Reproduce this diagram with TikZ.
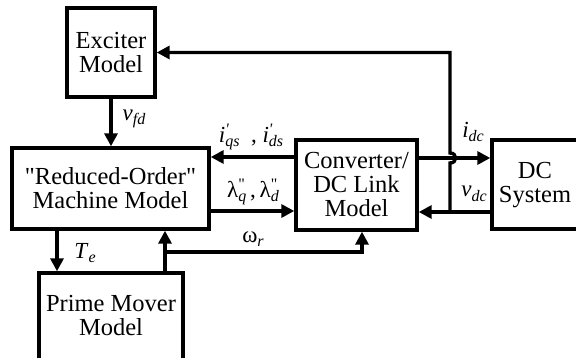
\documentclass[tikz,border=0pt]{standalone}
\usepackage{fontspec}
\setmainfont{Liberation Serif}[Ligatures=TeXOff]
\usetikzlibrary{arrows.meta}
\newcommand{\qtyl}[3]{#1\rlap{\raisebox{0.75ex}{\fontsize{16}{16}\selectfont #2}}\raisebox{-0.45ex}{\fontsize{16}{16}\selectfont\itshape #3}}
\newcommand{\dq}{\symbol{34}}
\begin{document}
\begin{tikzpicture}[x=1pt,y=-1pt,
  blk/.style={draw, line width=3.4pt, inner sep=0pt, align=center},
  txt/.style={font=\fontsize{24.5}{24}\selectfont, align=center, inner sep=0pt},
  lbl/.style={font=\fontsize{23}{23}\selectfont, inner sep=0pt},
  arr/.style={line width=3.4pt, -{Triangle[length=13pt,width=13pt]}},
  ln/.style={line width=3.4pt}]
\useasboundingbox (0,0) rectangle (576,358);
\clip (0,0) rectangle (576,358);
% blocks
\node[blk, minimum width=88pt, minimum height=89pt, txt] (exc) at (111,52.5) {Exciter\\Model};
\node[blk, minimum width=197pt, minimum height=81pt, txt] (mach) at (110.5,188.5) {\dq Reduced-Order\dq\\Machine Model};
\node[blk, minimum width=121pt, minimum height=90pt, txt] (conv) at (356.5,185) {Converter/\\DC Link\\Model};
\node[blk, minimum width=120pt, minimum height=89pt] (dcs) at (552,184.5) {};
\node[txt] (dcst) at (535,185) {DC\\System};
\node[blk, minimum width=144pt, minimum height=100pt] (pm) at (111,323) {};
\node[txt] (pmt) at (111,316) {Prime Mover\\Model};
% helper coordinates
\coordinate (jn) at (450,212);
\coordinate (yid) at (0,158);
\coordinate (yiq) at (0,157);
\coordinate (ylam) at (0,211);
\coordinate (xte) at (57,0);
\coordinate (w1) at (165,252);
\coordinate (w2) at (362,252);
\coordinate (bl) at (450,163);
\coordinate (bu) at (450,153);
\coordinate (tc) at (450,52.5);
% connectors
\draw[arr] (exc.south) -- (exc.south |- mach.north);
\draw[arr] (dcs.west |- jn) -- (conv.east |- jn);
\draw[arr] (jn) -- (bl) .. controls (457.5,163) and (457.5,153) .. (bu) -- (tc) -- (exc.east);
\draw[arr] (conv.east |- yid) -- (dcs.west |- yid);
\draw[arr] (conv.west |- yiq) -- (mach.east |- yiq);
\draw[arr] (mach.east |- ylam) -- (conv.west |- ylam);
\draw[arr] (mach.south -| xte) -- (pm.north -| xte);
\draw[arr] (pm.north -| w1) -- (mach.south -| w1);
\draw[arr] (w1) -- (w2) -- (conv.south -| w2);
% labels
\node[lbl] (lvfd) at (134,119) {\qtyl{\textit{v}}{}{fd}};
\node[lbl] (liq) at (251,137) {\qtyl{\textit{i}}{\textit{'}}{qs}\ \ ,\ \qtyl{\textit{i}}{\textit{'}}{ds}};
\node[lbl] (llam) at (253,192) {\qtyl{λ}{\dq}{q}\,,\,\qtyl{λ}{\dq}{d}};
\node[lbl] (lw) at (253,239) {\qtyl{ω}{}{r}};
\node[lbl] (lte) at (85,253) {\qtyl{\textit{T}}{}{e}};
\node[lbl] (lidc) at (473,132) {\qtyl{\textit{i}}{}{dc}};
\node[lbl] (lvdc) at (474,194) {\qtyl{\textit{v}}{}{dc}};
\end{tikzpicture}
\end{document}
